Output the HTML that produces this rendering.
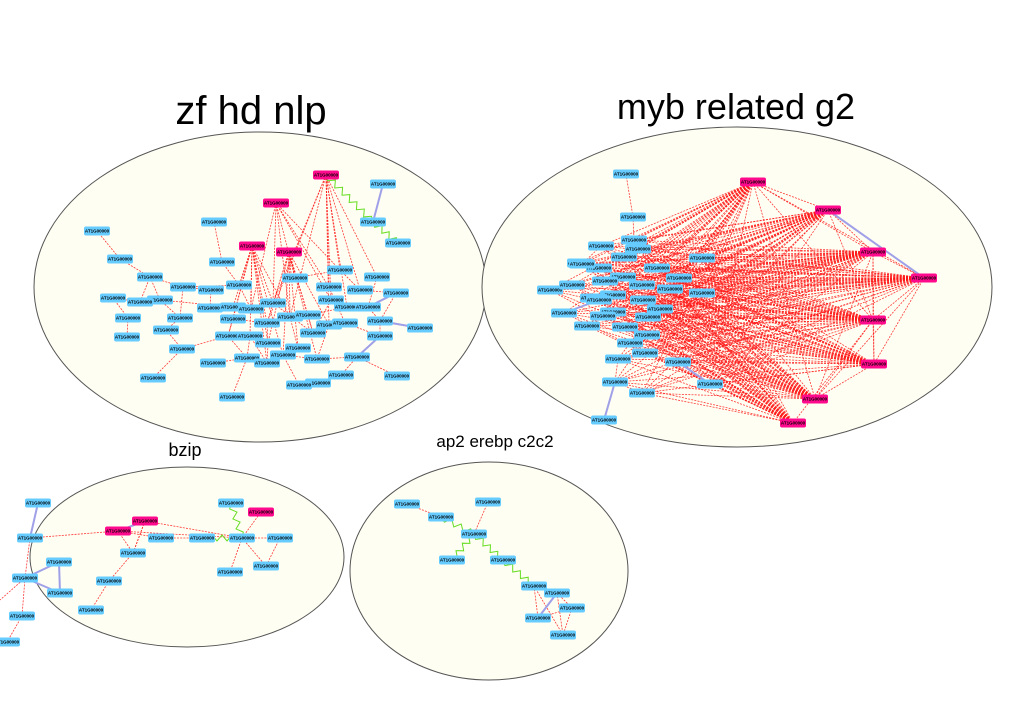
<!DOCTYPE html>
<html><head><meta charset="utf-8"><style>
html,body{margin:0;padding:0;background:#fff;}
svg{display:block;font-family:"Liberation Sans",sans-serif;}
</style></head><body>
<svg id="g" width="1011" height="713" viewBox="0 0 1011 713">
<g id="bg"></g><g id="edges"></g><g id="nodes"></g>
<text x="251" y="124" font-size="40" text-anchor="middle">zf hd nlp</text>
<text x="736" y="119" font-size="36" text-anchor="middle">myb related g2</text>
<text x="185" y="456" font-size="18" text-anchor="middle">bzip</text>
<text x="495" y="447" font-size="17" text-anchor="middle">ap2 erebp c2c2</text>
</svg>
<script>
// cluster ellipses [cx, cy, rx, ry]
const groups = [["zf-hd-nlp",260,287,226,155],["myb-related-g2",737,287,255,160],["bzip",187,557,157,90],["ap2-erebp-c2c2",489,571,139,109]];
// cluster 1
const c1Blue = [[383,184],[373,222],[398,243],[214,222],[222,262],[239,285],[211,290],[210,308],[233,307],[251,309],[233,319],[228,336],[250,336],[247,358],[213,363],[267,363],[267,323],[268,343],[295,278],[273,303],[290,317],[308,315],[283,355],[298,348],[317,359],[313,333],[340,270],[329,287],[331,300],[360,290],[377,277],[396,293],[347,307],[368,307],[329,325],[345,323],[380,321],[380,336],[357,357],[397,376],[420,328],[341,375],[318,383],[299,385],[97,231],[120,259],[150,277],[183,287],[113,298],[160,300],[140,302],[128,318],[180,318],[166,330],[127,337],[182,349],[153,378],[232,397]];
const c1Hub = [[326,175],[276,203],[252,246],[289,252]];
const c1HubLinks = [[26,27,28,29,30,32,19,20,16,34],[26,27,19,20,18,9,28],[5,8,9,10,12,16,19,20,22,17,11,15],[18,19,20,21,22,23,16,25,34,24,17]];
const c1Edges = [[44,45],[45,46],[46,47],[46,49],[47,5],[49,52],[50,48],[48,51],[51,54],[52,53],[53,55],[55,11],[49,8],[47,6],[6,7],[7,8],[8,9],[10,11],[11,13],[13,14],[12,15],[15,17],[9,19],[19,25],[25,28],[28,32],[32,33],[33,36],[36,37],[38,39],[38,41],[41,42],[42,43],[43,22],[24,38],[29,31],[31,36],[30,33],[27,35],[35,37],[34,24],[21,25],[3,4],[4,5],[57,13],[56,55],[20,23],[16,17],[12,13],[18,26],[26,29],[21,32],[5,9],[50,46],[52,47],[10,16],[22,24]];
const c1Lav = [[0,1],[33,31],[36,40],[37,38]];
// cluster 2
const c2Blue = [[626,174],[633,217],[634,240],[638,249],[601,246],[624,257],[702,258],[599,268],[580,263],[657,268],[623,277],[605,281],[679,278],[642,285],[670,289],[702,293],[613,295],[593,298],[643,300],[660,309],[613,312],[648,317],[603,316],[587,326],[625,327],[647,335],[630,343],[645,353],[678,362],[618,359],[710,384],[615,382],[642,393],[604,420],[550,290],[564,313],[572,285],[582,264],[599,300]];
const c2Hub = [[753,182],[828,210],[873,252],[924,278],[873,320],[874,364],[815,399],[793,423]];
const c2HubEdges = [[0,1],[0,2],[0,4],[1,2],[2,3],[0,3],[2,4],[2,5],[3,4],[3,5],[4,5],[5,6],[6,3],[6,2],[7,4],[6,4],[0,6],[1,4]];
const c2Edges = [[0,1],[1,2],[2,3],[29,31],[31,32],[34,36],[35,38],[37,4],[23,22],[31,33]];
const c2Lav = [[28,30],[33,31],[35,38]];
// cluster 3
const c3Blue = [[38,503],[30,538],[59,562],[25,578],[60,593],[22,616],[7,642],[161,538],[133,553],[109,581],[91,610],[202,538],[231,503],[242,538],[280,538],[230,572],[266,566]];
const c3Hub = [[118,531],[145,521]];
const c3Edges = [[1,3],[3,5],[5,6],[7,11],[8,9],[9,10],[13,14],[13,15],[13,16],[14,16]];
const c3HubLinks = [[0,7],[0,8],[1,8],[1,13],[0,1]];
const c3Lav = [[0,1],[2,3],[2,4],[3,4]];
const c3Zig = [[11,13],[12,13]];
// cluster 4
const c4Blue = [[407,504],[441,517],[488,502],[474,534],[452,560],[503,560],[534,586],[557,593],[572,608],[538,618],[563,635]];
const c4Edges = [[0,1],[2,3],[6,7],[6,9],[6,10],[7,8],[7,9],[7,10],[8,9],[8,10]];
const c4Lav = [[7,9]];
const c4Zig = [[1,3],[3,4],[3,5],[5,6]];

const NS="http://www.w3.org/2000/svg";
const bg=document.getElementById('bg'),E=document.getElementById('edges'),N=document.getElementById('nodes');
function mk(tag,attrs,parent){const e=document.createElementNS(NS,tag);for(const k in attrs)e.setAttribute(k,attrs[k]);parent.appendChild(e);return e;}
groups.forEach(g=>{
  const e=mk('ellipse',{cx:g[1],cy:g[2],rx:g[3],ry:g[4],fill:'#fffef2',stroke:'#555','stroke-width':1},bg);
  
  
});
function red(a,b){
  const l=mk('line',{x1:a[0],y1:a[1],x2:b[0],y2:b[1],stroke:'#ff1a1a','stroke-width':0.8,'stroke-dasharray':'2 1.2','stroke-opacity':0.85},E);
  
  
}
function lav(a,b){
  const l=mk('line',{x1:a[0],y1:a[1],x2:b[0],y2:b[1],stroke:'#a0a0e8','stroke-width':2},E);
  
  
}
function zig(a,b){
  const dx=b[0]-a[0],dy=b[1]-a[1],L=Math.hypot(dx,dy),n=Math.max(4,Math.round(L/5));
  const px=-dy/L,py=dx/L;let pts=[];
  for(let i=0;i<=n;i++){const t=i/n,o=(i===0||i===n)?0:(i%2?3:-3);pts.push((a[0]+dx*t+px*o).toFixed(1)+','+(a[1]+dy*t+py*o).toFixed(1));}
  const p=mk('polyline',{points:pts.join(' '),fill:'none',stroke:'#66dd22','stroke-width':1},E);
  
  
}
function node(p,hub){
  const g=mk('g',{},N);
  
  
  mk('rect',{x:p[0]-13,y:p[1]-4.5,width:26,height:9,rx:2,fill:hub?'#ff0a8c':'#66ccff'},g);
  const t=mk('text',{x:p[0],y:p[1]+1.6,'font-size':4.5,'font-weight':'bold','text-anchor':'middle',fill:'#000'},g);
  t.textContent='AT1G00000';
}
// cluster 1
c1HubLinks.forEach((l,h)=>l.forEach(i=>red(c1Hub[h],c1Blue[i])));
c1Edges.forEach(e=>red(c1Blue[e[0]],c1Blue[e[1]]));
c1Lav.forEach(e=>lav(c1Blue[e[0]],c1Blue[e[1]]));
zig(c1Hub[0],c1Blue[1]);zig(c1Blue[1],c1Blue[2]);
// cluster 2
c2Hub.forEach((h,hi)=>c2Blue.forEach((b,bi)=>{if(bi>1&&bi!==33)red(h,b);}));
c2HubEdges.forEach(e=>red(c2Hub[e[0]],c2Hub[e[1]]));
c2Edges.forEach(e=>red(c2Blue[e[0]],c2Blue[e[1]]));
c2Lav.forEach(e=>lav(c2Blue[e[0]],c2Blue[e[1]]));
lav(c2Hub[1],c2Hub[3]);
// cluster 3
c3Edges.forEach(e=>red(c3Blue[e[0]],c3Blue[e[1]]));
c3HubLinks.forEach(e=>red(c3Hub[e[0]],c3Blue[e[1]]));
red(c3Hub[1],c3Blue[8]);red(c3Hub[0],c3Blue[13]);red(c3Blue[3],[0,600]);
c3Lav.forEach(e=>lav(c3Blue[e[0]],c3Blue[e[1]]));
lav(c3Hub[0],c3Hub[1]);
c3Zig.forEach(e=>zig(c3Blue[e[0]],c3Blue[e[1]]));
red(c3Blue[13],[261,512]);
// cluster 4
c4Edges.forEach(e=>red(c4Blue[e[0]],c4Blue[e[1]]));
c4Lav.forEach(e=>lav(c4Blue[e[0]],c4Blue[e[1]]));
c4Zig.forEach(e=>zig(c4Blue[e[0]],c4Blue[e[1]]));
// nodes
[c1Blue,c2Blue,c3Blue,c4Blue].forEach(a=>a.forEach(p=>node(p,false)));
[c1Hub,c2Hub,c3Hub,[[261,512]]].forEach(a=>a.forEach(p=>node(p,true)));
</script>
</body></html>
